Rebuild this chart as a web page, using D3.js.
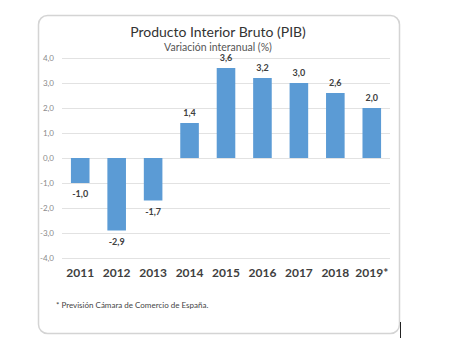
<!DOCTYPE html>
<html>
<head>
<meta charset="utf-8">
<script src="https://cdn.jsdelivr.net/npm/d3@7"></script>
<style>
  body { margin: 0; background: #fff; }
  text { font-family: Lato, "Open Sans", sans-serif; }
</style>
</head>
<body>
<div id="chart"></div>
<script>
// Data
var years = ["2011", "2012", "2013", "2014", "2015", "2016", "2017", "2018", "2019*"];
var pib = [-1.0, -2.9, -1.7, 1.4, 3.6, 3.2, 3.0, 2.6, 2.0];
var yTicks = [4, 3, 2, 1, 0, -1, -2, -3, -4];

var svgWidth = 460;
var svgHeight = 340;

var margin = { top: 58, right: 70, bottom: 82, left: 62 };
var chartWidth = svgWidth - margin.left - margin.right;
var chartHeight = svgHeight - margin.top - margin.bottom;

var svg = d3.select("#chart")
  .append("svg")
  .attr("width", svgWidth)
  .attr("height", svgHeight);

// Rounded frame
svg.append("rect")
  .attr("x", 38.5)
  .attr("y", 15.5)
  .attr("width", 361)
  .attr("height", 318)
  .attr("rx", 9)
  .attr("fill", "#fff")
  .attr("stroke", "#d4d4d4")
  .attr("stroke-width", 1.5);

// text caret at the bottom right
svg.append("line")
  .attr("x1", 400.5).attr("x2", 400.5)
  .attr("y1", 322).attr("y2", 338)
  .attr("stroke", "#222").attr("stroke-width", 1);

var chartGroup = svg.append("g")
  .attr("transform", `translate(${margin.left}, ${margin.top})`);

var xScale = d3.scaleBand()
  .domain(years)
  .range([0, chartWidth])
  .paddingInner(0.49)
  .paddingOuter(0.245);

var yScale = d3.scaleLinear()
  .domain([-4, 4])
  .range([chartHeight, 0]);

var fmt = d => d3.format(".1f")(d).replace(".", ",").replace("−", "-");

// Gridlines + y labels
var leftAxis = d3.axisLeft(yScale)
  .tickValues(yTicks)
  .tickSize(-chartWidth)
  .tickPadding(8)
  .tickFormat(fmt);

var yAxis = chartGroup.append("g").call(leftAxis);
yAxis.select(".domain").remove();
yAxis.selectAll("line").attr("stroke", "#e2e2e2");
yAxis.selectAll("text")
  .attr("fill", "#8a8a8a")
  .attr("font-size", 8);

// Bars
chartGroup.selectAll("rect.bar")
  .data(pib)
  .enter()
  .append("rect")
  .attr("class", "bar")
  .attr("x", (d, i) => xScale(years[i]))
  .attr("y", d => yScale(Math.max(d, 0)))
  .attr("width", xScale.bandwidth())
  .attr("height", d => Math.abs(yScale(d) - yScale(0)))
  .attr("fill", "#5b9bd5");

// Value labels
chartGroup.selectAll("text.val")
  .data(pib)
  .enter()
  .append("text")
  .attr("class", "val")
  .attr("x", (d, i) => xScale(years[i]) + xScale.bandwidth() / 2)
  .attr("y", d => d >= 0 ? yScale(d) - 7 : yScale(d) + 14)
  .attr("text-anchor", "middle")
  .attr("font-size", 9)
  .attr("font-weight", "bold")
  .attr("fill", "#404040")
  .text(fmt);

// X labels
var bottomAxis = d3.axisBottom(xScale).tickSize(0).tickPadding(10);
var xAxis = chartGroup.append("g")
  .attr("transform", `translate(0, ${chartHeight})`)
  .call(bottomAxis);
xAxis.select(".domain").remove();
xAxis.selectAll("text")
  .attr("fill", "#404040")
  .attr("font-size", 12)
  .attr("font-weight", "bold");

// Titles
svg.append("text")
  .attr("x", 218)
  .attr("y", 37)
  .attr("text-anchor", "middle")
  .attr("font-size", 14)
  .attr("fill", "#333")
  .text("Producto Interior Bruto (PIB)");

svg.append("text")
  .attr("x", 218)
  .attr("y", 51)
  .attr("text-anchor", "middle")
  .attr("font-size", 10.5)
  .attr("fill", "#555")
  .text("Variación interanual  (%)");

// Footnote
svg.append("text")
  .attr("x", 56)
  .attr("y", 308)
  .attr("font-size", 8)
  .attr("fill", "#444")
  .text("* Previsión Cámara de Comercio de España.");
</script>
</body>
</html>
